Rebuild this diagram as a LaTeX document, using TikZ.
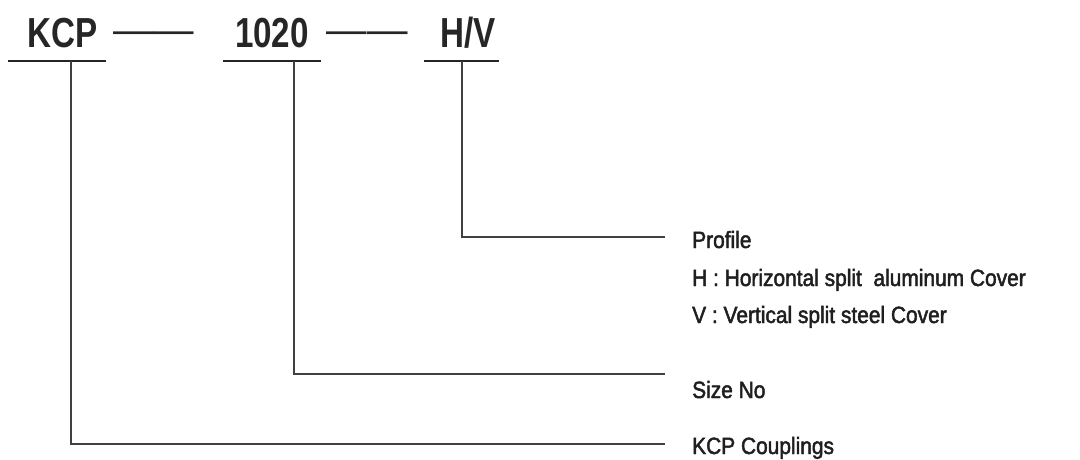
\documentclass[tikz,border=0pt]{standalone}
\usepackage{fontspec}
\setmainfont{Liberation Sans}
\newfontfamily\titlefont[FakeStretch=0.79]{Liberation Sans Bold}
\newfontfamily\labelfont[FakeStretch=0.89,FakeBold=2]{Liberation Sans}
\begin{document}
\begin{tikzpicture}[x=1pt,y=-1pt,
  title/.style={font=\titlefont\fontsize{42}{42}\selectfont, text=black!85, inner sep=0pt, anchor=base},
  dashtxt/.style={font=\fontsize{40.5}{40.5}\selectfont, text=black!85, inner sep=0pt, anchor=base},
  lbl/.style={font=\labelfont\fontsize{23.5}{23.5}\selectfont, text=black!88, inner sep=0pt, anchor=base west},
  uline/.style={line width=1.5pt, draw=black!85},
  conn/.style={line width=1.1pt, draw=black!75}]
\useasboundingbox (0,0) rectangle (1080,459);
% titles
\node[title] (kcp) at (63,47) {KCP};
\node[dashtxt] (d1) at (153.5,43) {——};
\node[title] (num) at (272,47) {1020};
\node[dashtxt] (d2) at (367,43) {——};
\node[title] (hv) at (468,47) {H/V};
% labels
\node[lbl] (profile) at (692,248) {Profile};
\node[lbl] (hline) at (692,286) {H : Horizontal split\ \ aluminum Cover};
\node[lbl] (vline) at (692,323) {V : Vertical split steel Cover};
\node[lbl] (size) at (692,398) {Size No};
\node[lbl] (coup) at (692,454) {KCP Couplings};
% underline coordinates
\coordinate (u1a) at (8,61); \coordinate (u1b) at (106,61);
\coordinate (u2a) at (223,61); \coordinate (u2b) at (321,61);
\coordinate (u3a) at (424,61); \coordinate (u3b) at (499,61);
\draw[uline] (u1a) -- (u1b);
\draw[uline] (u2a) -- (u2b);
\draw[uline] (u3a) -- (u3b);
% connectors
\coordinate (t1) at (71,61); \coordinate (e1) at (665,444);
\coordinate (t2) at (294,61); \coordinate (e2) at (665,374);
\coordinate (t3) at (462,61); \coordinate (e3) at (665,237);
\draw[conn] (t1) |- (e1);
\draw[conn] (t2) |- (e2);
\draw[conn] (t3) |- (e3);
\end{tikzpicture}
\end{document}
